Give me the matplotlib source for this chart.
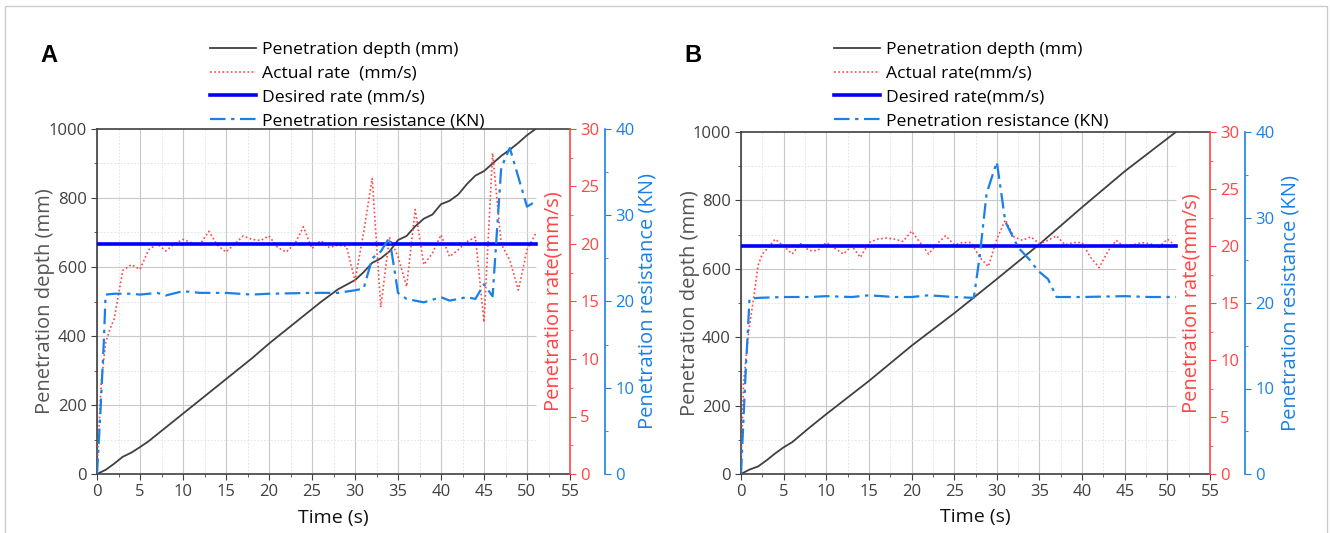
import matplotlib
matplotlib.use("Agg")
import matplotlib.pyplot as plt
import matplotlib.patches as patches
from matplotlib.ticker import MultipleLocator
import numpy as np

plt.rcParams['font.family'] = ['Open Sans', 'DejaVu Sans']

# ---- panel A data ----
tA_depth = [0, 1, 2, 3, 4, 5, 6, 8, 10, 12, 14, 16, 18, 20, 22, 24, 26, 28, 30, 31, 32,
            33, 34, 35, 36, 37, 38, 39, 40, 41, 42, 43, 44, 45, 46, 47, 48, 49, 50, 51]
depthA = [0, 12, 30, 50, 62, 78, 95, 135, 175, 215, 255, 295, 335, 378, 418, 458, 498,
          535, 562, 585, 612, 625, 645, 678, 690, 718, 740, 752, 782, 792, 810, 840, 865,
          878, 900, 922, 940, 960, 982, 1000]

tA_rate = [0, 0.5, 1, 1.5, 2, 2.5, 3] + list(range(4, 52))
rateA = [0.5, 8, 11.4, 12.6, 13.5, 15.6, 17.7,
         18.2, 17.8, 19.5, 20.0, 19.4, 20.0, 20.4, 20.1, 20.0, 21.1, 19.9, 19.3, 20.0,
         20.7, 20.4, 20.3, 20.7, 19.7, 19.3, 20.0, 21.5, 19.6, 20.3, 19.7, 19.9, 19.8,
         16.8, 21.0, 25.7, 14.5, 20.6, 18.9, 16.3, 23.0, 18.2, 19.2, 20.8, 18.9, 19.5,
         20.2, 20.6, 13.2, 27.9, 20.0, 18.6, 16.0, 19.5, 20.9]

tA_res = [0, 0.4, 0.8, 1, 2, 4, 5, 7, 8, 10, 12, 15, 18, 20, 25, 28, 30, 31, 32, 33,
          34, 35, 36, 38, 40, 41, 43, 44, 45, 46, 47, 48, 49, 50, 51]
resA = [0, 7.2, 15.5, 20.8, 20.9, 20.9, 20.8, 21.0, 20.7, 21.2, 21.0, 21.0, 20.8, 20.9,
        21.0, 21.0, 21.3, 21.5, 25.0, 25.8, 27.4, 21.0, 20.3, 19.9, 20.5, 20.1, 20.5,
        20.3, 22.0, 20.6, 35.5, 37.8, 34.4, 31.0, 31.6]

# ---- panel B data ----
tB_depth = [0, 1, 2, 3, 4, 5, 6, 8, 10, 15, 20, 25, 27, 30, 35, 40, 45, 51]
depthB = [0, 13, 22, 40, 60, 78, 93, 135, 175, 272, 375, 470, 510, 570, 672, 780, 885, 1000]

tB_rate = [0, 0.3, 0.9, 1.5, 2, 2.5, 3] + list(range(4, 52))
rateB = [0.5, 8, 12.5, 15.5, 18.3, 19.3, 19.7,
         20.6, 20.0, 19.3, 20.2, 19.6, 19.6, 20.3, 19.8, 19.3, 20.0, 19.0, 20.3, 20.6,
         20.7, 20.6, 20.4, 21.3, 20.3, 19.3, 20.2, 20.9, 20.1, 20.3, 20.3, 19.0, 18.2,
         20.6, 22.3, 20.8, 20.5, 20.8, 20.2, 20.5, 20.9, 20.1, 20.3, 20.3, 19.0, 18.1,
         19.5, 20.5, 19.9, 20.1, 20.3, 20.2, 19.9, 20.6, 20.0]

tB_res = [0, 0.5, 1, 2, 5, 8, 10, 13, 15, 18, 20, 22, 25, 27.3, 28, 28.8, 30, 31, 32.5,
          33.9, 34.8, 36, 37, 40, 45, 48, 51]
resB = [0, 11, 20.5, 20.6, 20.7, 20.7, 20.8, 20.7, 20.9, 20.7, 20.7, 20.9, 20.7, 20.6,
        25.5, 32.8, 36.5, 29.5, 26.5, 25.0, 23.8, 22.8, 20.7, 20.7, 20.8, 20.7, 20.7]

t_desired = [0, 51]
rate_desired = [20, 20]

labelsA = ['Penetration depth (mm)', 'Actual rate  (mm/s)', 'Desired rate (mm/s)',
           'Penetration resistance (KN)']
labelsB = ['Penetration depth (mm)', 'Actual rate(mm/s)', 'Desired rate(mm/s)',
           'Penetration resistance (KN)']

RED = '#ff4545'
BLUE = '#1a80e6'
DARK = '#404040'
W, H = 1330, 533


def panel(rect, t_d, d, t_r, r, t_s, s, labels, letter, leg_x, llab_x, rlab_x, blab_x):
    ax = fig.add_axes(rect)
    ax.set_xlim(0, 55)
    ax.set_ylim(0, 1000)
    ax.xaxis.set_major_locator(MultipleLocator(5))
    ax.xaxis.set_minor_locator(MultipleLocator(2.5))
    ax.yaxis.set_major_locator(MultipleLocator(200))
    ax.yaxis.set_minor_locator(MultipleLocator(100))
    ax.tick_params(which='both', direction='out', colors=DARK, labelsize=12)
    ax.tick_params(which='major', length=4)
    ax.tick_params(which='minor', length=2.5)
    # grid
    ax.grid(True, axis='x', which='major', color='#c8c8c8', lw=0.8)
    ax.grid(True, axis='x', which='minor', color='#e0e0e0', lw=0.6, ls=(0, (2, 2)))
    ax.hlines([200, 400, 600, 800], 0, 51, color='#c8c8c8', lw=0.8)
    ax.hlines([100, 300, 500, 700, 900], 0, 51, color='#e0e0e0', lw=0.6, ls=(0, (2, 2)))
    ax.set_axisbelow(True)
    for sp in ['left', 'bottom', 'top']:
        ax.spines[sp].set_color(DARK)
        ax.spines[sp].set_linewidth(1.2)
    ax.spines['right'].set_visible(False)
    h1, = ax.plot(t_d, d, color=DARK, lw=1.3)
    ax.set_xlabel('Time (s)', fontsize=14, color='#111111')
    ax.xaxis.set_label_coords(0.5, -0.1)
    ax.set_ylabel('Penetration depth (mm)', fontsize=14.5, color='#555555')
    ax.yaxis.set_label_coords(llab_x, 0.5)

    axr = ax.twinx()
    axr.set_ylim(0, 30)
    axr.yaxis.set_major_locator(MultipleLocator(5))
    axr.yaxis.set_minor_locator(MultipleLocator(2.5))
    axr.tick_params(which='both', direction='out', colors=RED, labelsize=12)
    axr.tick_params(which='major', length=4)
    axr.tick_params(which='minor', length=2.5)
    for sp in ['left', 'bottom', 'top']:
        axr.spines[sp].set_visible(False)
    axr.spines['right'].set_color(RED)
    axr.spines['right'].set_linewidth(1.2)
    h2, = axr.plot(t_r, r, color=RED, lw=1.2, ls=(0, (1, 1.5)))
    h3, = axr.plot(t_desired, rate_desired, color='#0000ff', lw=2.6)
    axr.set_ylabel('Penetration rate(mm/s)', fontsize=14.5, color=RED)
    axr.yaxis.set_label_coords(rlab_x, 0.5)

    axb = ax.twinx()
    axb.set_ylim(0, 40)
    axb.yaxis.set_major_locator(MultipleLocator(10))
    axb.yaxis.set_minor_locator(MultipleLocator(5))
    axb.tick_params(which='both', direction='out', colors=BLUE, labelsize=12)
    axb.tick_params(which='major', length=4)
    axb.tick_params(which='minor', length=2.5)
    for sp in ['left', 'bottom', 'top']:
        axb.spines[sp].set_visible(False)
    axb.spines['right'].set_position(('outward', 25))
    axb.spines['right'].set_color(BLUE)
    axb.spines['right'].set_linewidth(1.2)
    h4, = axb.plot(t_s, s, color=BLUE, lw=1.6, ls=(0, (7, 2.5, 1.5, 2.5)))
    axb.set_ylabel('Penetration resistance (KN)', fontsize=14.5, color=BLUE)
    axb.yaxis.set_label_coords(blab_x, 0.5)

    fig.legend([h1, h2, h3, h4], labels, loc='upper left',
               bbox_to_anchor=(leg_x / W, 1 - 42 / H), frameon=False, fontsize=12.6,
               handlelength=2.6, handletextpad=0.4, labelspacing=0.42,
               borderpad=0, borderaxespad=0)
    fig.text(rect[0] - 57 / W, 1 - 55 / H, letter, fontsize=17, fontweight='bold',
             family='Liberation Sans', va='center', ha='left')


fig = plt.figure(figsize=(13.3, 5.33), dpi=100)
fig.patches.append(patches.Rectangle((5 / W, -0.01), 1322 / W, 1 - 6 / H + 0.01,
                                     transform=fig.transFigure, fill=False,
                                     edgecolor='#cccccc', lw=1))

panel([97 / W, 1 - 474 / H, 473 / W, 345 / H], tA_depth, depthA, tA_rate, rateA,
      tA_res, resA, labelsA, 'A', 210, -0.088, 0.943, 1.142)
panel([741 / W, 1 - 474 / H, 469 / W, 342 / H], tB_depth, depthB, tB_rate, rateB,
      tB_res, resB, labelsB, 'B', 834, -0.087, 0.94, 1.151)

plt.savefig('out.png', dpi=100)
